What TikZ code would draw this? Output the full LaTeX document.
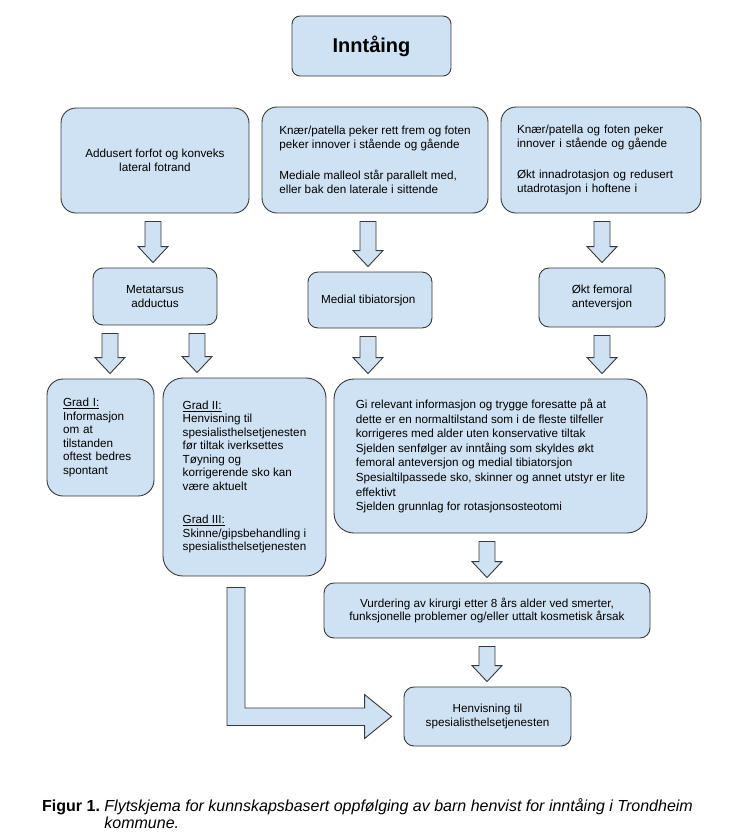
\documentclass[tikz,border=0pt]{standalone}
\usepackage{fontspec}
\setmainfont{Liberation Sans}
\usetikzlibrary{calc}

\definecolor{boxblue}{HTML}{CFE2F3}
\definecolor{edgegray}{HTML}{383838}

% hollow down arrow between two boxes, #1 = x position
\newcommand{\blockdown}[3]{%
  \draw[blockarrow] let \p1=(#2), \p2=(#3) in
    ({#1pt-8pt},{\y1-8pt}) -- ({#1pt+8pt},{\y1-8pt}) -- ({#1pt+8pt},{\y2+21pt})
    -- ({#1pt+15pt},{\y2+21pt}) -- ({#1pt},{\y2+5pt}) -- ({#1pt-15pt},{\y2+21pt})
    -- ({#1pt-8pt},{\y2+21pt}) -- cycle;}

\begin{document}
\begin{tikzpicture}[
  x=1pt, y=-1pt,
  font=\fontsize{11.7}{13.5}\selectfont,
  box/.style={draw=edgegray, fill=boxblue, line width=0.9pt, inner sep=0pt},
  ctext/.style={box, align=center},
  ltext/.style={box, align=left},
  blockarrow/.style={draw=edgegray, fill=boxblue, line width=0.9pt},
  caption/.style={font=\fontsize{16}{17}\selectfont, inner sep=0pt}
]
\useasboundingbox (0,0) rectangle (752,836);

\node[ctext, minimum width=159, minimum height=60, rounded corners=8pt,
  font=\bfseries\fontsize{20}{24}\selectfont] (intake) at (371.5,46) {Inntåing};

\node[ctext, minimum width=188, minimum height=105, rounded corners=15pt] (adduct) at (155,160.5) {
  Addusert forfot og konveks\\
  lateral fotrand
};
\node[ltext, minimum width=226, minimum height=106, rounded corners=15pt] (patella) at (375,160) {
  Knær/patella peker rett frem og foten\\
  peker innover i stående og gående\\[18pt]
  Mediale malleol står parallelt med,\\
  eller bak den laterale i sittende
};
\node[ltext, text width=168, inner xsep=16, minimum height=106, rounded corners=15pt] (femur) at (601,160) {
  Knær/patella og foten peker\\
  innover i stående og gående\\[18pt]
  Økt innadrotasjon og redusert\\
  utadrotasjon i hoftene i
};

\node[ctext, minimum width=124, minimum height=57, rounded corners=10pt] (meta) at (155,296.5) {
  Metatarsus\\
  adductus
};
\node[ctext, minimum width=124, minimum height=56, rounded corners=10pt] (tibia) at (370,300) {
  Medial tibiatorsjon
};
\node[ctext, minimum width=126, minimum height=59, rounded corners=10pt] (antev) at (602,297.5) {
  Økt femoral\\
  anteversjon
};

\node[ltext, text width=75, inner xsep=16, minimum height=117, rounded corners=16pt] (gradI) at (100.5,437.5) {
  \underline{Grad I:}\\
  Informasjon\\
  om at\\
  tilstanden\\
  oftest bedres\\
  spontant
};
\node[ltext, minimum width=163, minimum height=198, rounded corners=20pt] (gradII) at (244.5,477) {
  \underline{Grad II:}\\
  Henvisning til\\
  spesialisthelsetjenesten\\
  før tiltak iverksettes\\
  Tøyning og\\
  korrigerende sko kan\\
  være aktuelt\\[20pt]
  \underline{Grad III:}\\
  Skinne/gipsbehandling i\\
  spesialisthelsetjenesten
};
\node[ltext, minimum width=313, minimum height=154, rounded corners=20pt,
  font=\fontsize{11.7}{14.6}\selectfont] (advice) at (490.5,456) {
  Gi relevant informasjon og trygge foresatte på at\\
  dette er en normaltilstand som i de fleste tilfeller\\
  korrigeres med alder uten konservative tiltak\\
  Sjelden senfølger av inntåing som skyldes økt\\
  femoral anteversjon og medial tibiatorsjon\\
  Spesialtilpassede sko, skinner og annet utstyr er lite\\
  effektivt\\
  Sjelden grunnlag for rotasjonsosteotomi
};

\node[ctext, minimum width=326, minimum height=55, rounded corners=10pt] (surgery) at (487,610.5) {
  Vurdering av kirurgi etter 8 års alder ved smerter,\\
  funksjonelle problemer og/eller uttalt kosmetisk årsak
};
\node[ctext, minimum width=167, minimum height=59, rounded corners=10pt] (referral) at (487.5,716.5) {
  Henvisning til\\
  spesialisthelsetjenesten
};

\blockdown{153}{adduct.south}{meta.north}
\blockdown{368}{patella.south}{tibia.north}
\blockdown{602}{femur.south}{antev.north}
\blockdown{110}{meta.south}{gradI.north}
\blockdown{197}{meta.south}{gradII.north}
\blockdown{368}{tibia.south}{advice.north}
\blockdown{602}{antev.south}{advice.north}
\blockdown{487}{advice.south}{surgery.north}
\blockdown{487}{surgery.south}{referral.north}

\draw[blockarrow] let \p1=(gradII.south), \p2=(referral.west) in
  ({\x1-17.5pt},{\y1-11pt}) -- ({\x1+0.5pt},{\y1-11pt}) -- ({\x1+0.5pt},{\y2+8.5pt})
  -- ({\x2-39pt},{\y2+8.5pt}) -- ({\x2-39pt},{\y2+22pt}) -- ({\x2-12pt},{\y2})
  -- ({\x2-39pt},{\y2-22pt}) -- ({\x2-39pt},{\y2-9pt}) -- ({\x1-17.5pt},{\y2-9pt}) -- cycle;

\node[caption, anchor=base west] (cap) at (42,811) {%
  \begin{tabular}[t]{@{}l@{\ }l@{}}
    \textbf{Figur 1.} & \textit{Flytskjema for kunnskapsbasert oppfølging av barn henvist for inntåing i Trondheim}\\
    & \textit{kommune.}
  \end{tabular}};

\end{tikzpicture}
\end{document}
